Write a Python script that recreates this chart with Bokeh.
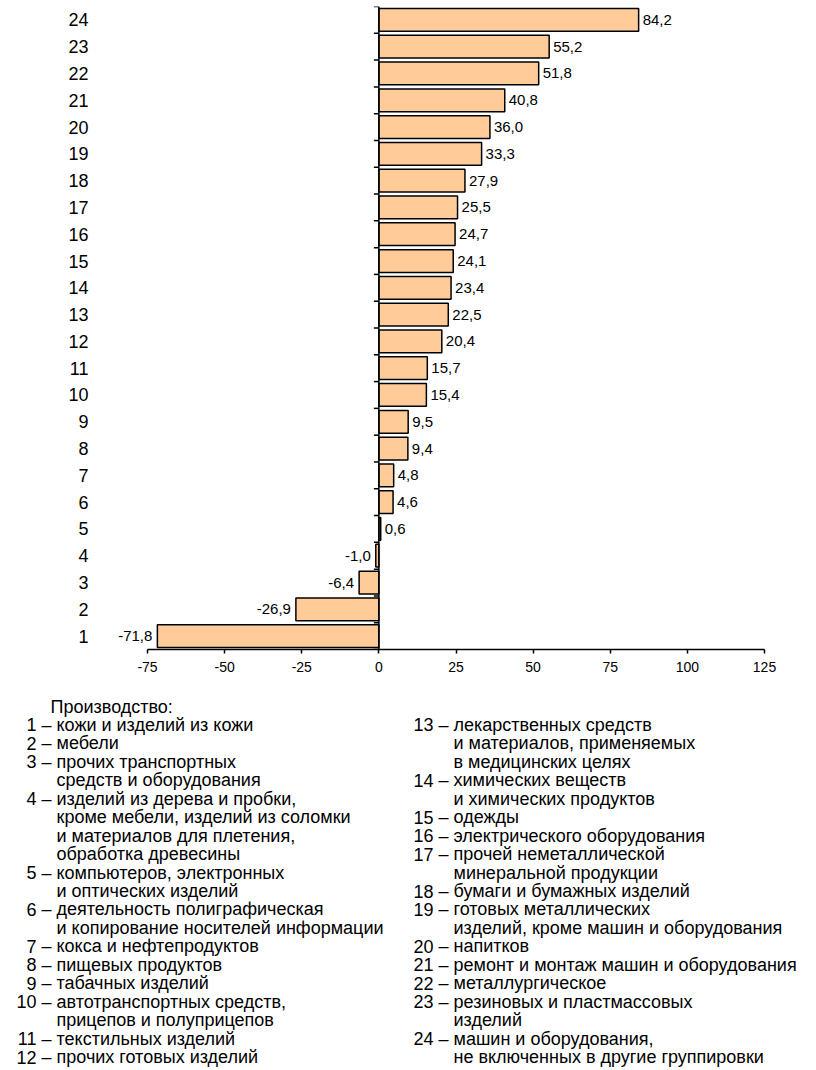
from bokeh.plotting import figure
from bokeh.models import Range1d, FixedTicker, Span, ColumnDataSource
from bokeh.core.properties import value
from bokeh.embed import file_html
from bokeh.resources import INLINE

# ---- data ----
categories = [str(i) for i in range(1, 25)]
values = [-71.8, -26.9, -6.4, -1.0, 0.6, 4.6, 4.8, 9.4, 9.5, 15.4, 15.7, 20.4,
          22.5, 23.4, 24.1, 24.7, 25.5, 27.9, 33.3, 36.0, 40.8, 51.8, 55.2, 84.2]
x_ticks = [-75, -50, -25, 0, 25, 50, 75, 100, 125]
x_tick_labels = ["-75", "-50", "-25", "0", "25", "50", "75", "100", "125"]

legend_title = "Производство:"
legend_left = [
    ("1", ["кожи и изделий из кожи"]),
    ("2", ["мебели"]),
    ("3", ["прочих транспортных", "средств и оборудования"]),
    ("4", ["изделий из дерева и пробки,", "кроме мебели, изделий из соломки",
           "и материалов для плетения,", "обработка древесины"]),
    ("5", ["компьютеров, электронных", "и оптических изделий"]),
    ("6", ["деятельность полиграфическая", "и копирование носителей информации"]),
    ("7", ["кокса и нефтепродуктов"]),
    ("8", ["пищевых продуктов"]),
    ("9", ["табачных изделий"]),
    ("10", ["автотранспортных средств,", "прицепов и полуприцепов"]),
    ("11", ["текстильных изделий"]),
    ("12", ["прочих готовых изделий"]),
]
legend_right = [
    ("13", ["лекарственных средств", "и материалов, применяемых", "в медицинских целях"]),
    ("14", ["химических веществ", "и химических продуктов"]),
    ("15", ["одежды"]),
    ("16", ["электрического оборудования"]),
    ("17", ["прочей неметаллической", "минеральной продукции"]),
    ("18", ["бумаги и бумажных изделий"]),
    ("19", ["готовых металлических", "изделий, кроме машин и оборудования"]),
    ("20", ["напитков"]),
    ("21", ["ремонт и монтаж машин и оборудования"]),
    ("22", ["металлургическое"]),
    ("23", ["резиновых и пластмассовых", "изделий"]),
    ("24", ["машин и оборудования,", "не включенных в другие группировки"]),
]

FONT = "Liberation Sans"
W1 = 800
H1 = 690
W2 = 812
H2 = 1070 - H1

positions = list(range(1, len(categories) + 1))
x0, x1 = x_ticks[0], x_ticks[-1]
AXIS_LEFT_PX, AXIS_RIGHT_PX = 147, 764      # where -75 and 125 sit on the page
px_per_unit = (AXIS_RIGHT_PX - AXIS_LEFT_PX) / (x1 - x0)
ML = 100                                   # frame starts left of -75 so labels are not clipped
MR = W1 - AXIS_RIGHT_PX
MT = 6
MB = H1 - 649
x_lo = x0 - (AXIS_LEFT_PX - ML) / px_per_unit

p = figure(width=W1, height=H1, x_range=Range1d(x_lo, x1),
           y_range=Range1d(0.5, len(categories) + 0.5),
           min_border_left=ML, min_border_right=MR, min_border_top=MT,
           min_border_bottom=MB, output_backend="svg", toolbar_location=None,
           outline_line_color=None)
p.grid.visible = False

# category labels on left axis
p.yaxis.ticker = FixedTicker(ticks=positions)
p.yaxis.major_label_overrides = {pos: c for pos, c in zip(positions, categories)}
p.yaxis.axis_line_color = None
p.yaxis.major_tick_line_color = None
p.yaxis.minor_tick_line_color = None
p.yaxis.major_tick_out = 0
p.yaxis.major_tick_in = 0
p.yaxis.major_label_standoff = ML - 88
p.yaxis.major_label_text_font = FONT
p.yaxis.major_label_text_font_size = "18px"
p.yaxis.major_label_text_color = "black"

# x axis (line limited to -75..125)
p.xaxis.bounds = (x0, x1)
p.xaxis.ticker = FixedTicker(ticks=x_ticks)
p.xaxis.major_label_overrides = {t: s for t, s in zip(x_ticks, x_tick_labels)}
p.xaxis.axis_line_width = 1.5
p.xaxis.axis_line_color = "black"
p.xaxis.major_tick_line_color = "black"
p.xaxis.major_tick_line_width = 1.5
p.xaxis.major_tick_out = 4
p.xaxis.major_tick_in = 0
p.xaxis.minor_tick_line_color = None
p.xaxis.major_label_text_font = FONT
p.xaxis.major_label_text_font_size = "14px"
p.xaxis.major_label_text_color = "black"
p.xaxis.major_label_standoff = 8

# zero axis line with ticks at category boundaries
p.add_layout(Span(location=0, dimension="height", line_color="black", line_width=1.5))
tick_len = 5 / px_per_unit
bounds = [pos - 0.5 for pos in positions] + [positions[-1] + 0.5]
p.segment(x0=[-tick_len] * len(bounds), x1=[0] * len(bounds), y0=bounds, y1=bounds,
          line_color="black", line_width=1.5)

src = ColumnDataSource(dict(y=positions, v=values))
p.hbar(y="y", left=0, right="v", height=0.85, source=src,
       fill_color="#FFCC99", line_color="black", line_width=1.5)


def fmt(v):
    return f"{v:.1f}".replace(".", ",")


pos_src = ColumnDataSource(dict(x=[v for v in values if v >= 0],
                                y=[y for y, v in zip(positions, values) if v >= 0],
                                t=[fmt(v) for v in values if v >= 0]))
neg_src = ColumnDataSource(dict(x=[v for v in values if v < 0],
                                y=[y for y, v in zip(positions, values) if v < 0],
                                t=[fmt(v) for v in values if v < 0]))
p.text(x="x", y="y", text="t", source=pos_src, x_offset=4, text_align="left",
       text_baseline="middle", text_font=value(FONT), text_font_size="15px",
       text_color="black")
p.text(x="x", y="y", text="t", source=neg_src, x_offset=-5, text_align="right",
       text_baseline="middle", text_font=value(FONT), text_font_size="15px",
       text_color="black")

# ---- legend figure (separate root, pixel-based ranges) ----
q = figure(width=W2, height=H2, x_range=Range1d(0, W2), y_range=Range1d(H2, 0),
           min_border=0, output_backend="svg", toolbar_location=None,
           outline_line_color=None)
q.axis.visible = False
q.grid.visible = False

row0 = 706 - H1
step = 18.45
lsize = "18px"


def build(entries, num_right, dash_x, text_x, start_row):
    nx, ny, nt, dx, dy, dt = [], [], [], [], [], []
    r = start_row
    for num, lines in entries:
        nx.append(num_right); ny.append(row0 + r * step); nt.append(num)
        dx.append(dash_x); dy.append(row0 + r * step); dt.append("– " + lines[0])
        r += 1
        for ln in lines[1:]:
            dx.append(text_x); dy.append(row0 + r * step); dt.append(ln)
            r += 1
    return nx, ny, nt, dx, dy, dt


for entries, nr, dxp, tx in [(legend_left, 36, 41, 56), (legend_right, 433, 438, 453)]:
    nx, ny, nt, dx, dy, dt = build(entries, nr, dxp, tx, 1)
    q.text(x=nx, y=ny, text=nt, text_align="right", text_baseline="middle",
           text_font=value(FONT), text_font_size=lsize, text_color="black")
    q.text(x=dx, y=dy, text=dt, text_align="left", text_baseline="middle",
           text_font=value(FONT), text_font_size=lsize, text_color="black")

q.text(x=[50], y=[row0], text=[legend_title], text_align="left", text_baseline="middle",
       text_font=value(FONT), text_font_size=lsize, text_color="black")

open("out.html", "w").write(file_html([p, q], INLINE))
